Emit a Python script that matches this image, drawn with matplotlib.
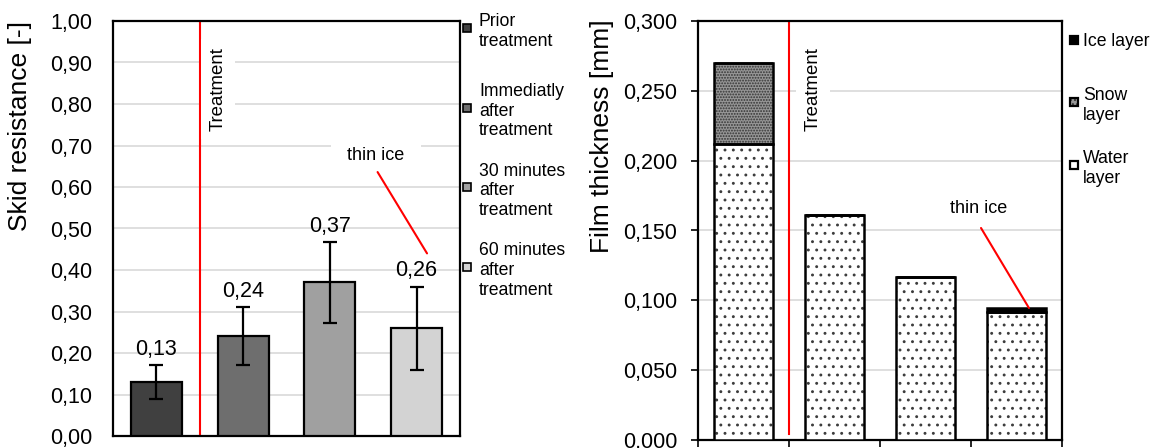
import matplotlib
matplotlib.use("Agg")
import matplotlib.pyplot as plt
from matplotlib.patches import Rectangle
from matplotlib.ticker import FuncFormatter

plt.rcParams['font.family'] = ['Liberation Sans', 'DejaVu Sans']
plt.rcParams['hatch.linewidth'] = 0.9

# Skid resistance (left chart)
skid_labels = ['Prior\ntreatment', 'Immediatly\nafter\ntreatment',
               '30 minutes\nafter\ntreatment', '60 minutes\nafter\ntreatment']
skid_mean = [0.13, 0.24, 0.37, 0.26]
skid_err = [0.04, 0.07, 0.097, 0.10]
skid_colors = ['#404040', '#6e6e6e', '#a0a0a0', '#d3d3d3']

# Film thickness (right chart), stacked layers in mm
water_layer = [0.212, 0.161, 0.1165, 0.092]
snow_layer = [0.058, 0.0, 0.0, 0.0]
ice_layer = [0.0, 0.0, 0.0, 0.0025]
layer_labels = ['Ice layer', 'Snow\nlayer', 'Water\nlayer']

W, H = 1156, 448
fig = plt.figure(figsize=(W / 100, H / 100), dpi=100)


def comma_fmt(nd):
    return FuncFormatter(lambda v, p: f'{v:.{nd}f}'.replace('.', ','))


def px(x, y):
    # pixel position -> figure fraction
    return x / W, 1 - y / H


# ---------------- left chart ----------------
ax1 = fig.add_axes([113 / W, 12 / H, 347 / W, 415 / H])
x = range(len(skid_mean))
ax1.bar(x, skid_mean, width=0.59, color=skid_colors, edgecolor='black',
        linewidth=1.6, zorder=3)
ax1.errorbar(x, skid_mean, yerr=skid_err, fmt='none', ecolor='black',
             elinewidth=1.6, capsize=5, capthick=1.6, zorder=4)
for xi, m, e in zip(x, skid_mean, skid_err):
    ax1.annotate(f'{m:.2f}'.replace('.', ','), (xi, m + e), xytext=(0, 4),
                 textcoords='offset points', ha='center', va='bottom',
                 fontsize=15.5, zorder=5)
ax1.set_xlim(-0.5, 3.5)
ax1.set_ylim(0, 1.0)
ax1.set_yticks([i / 10 for i in range(11)])
ax1.yaxis.set_major_formatter(comma_fmt(2))
ax1.tick_params(axis='y', length=0, pad=15, labelsize=15.5)
ax1.set_xticks([])
ax1.grid(axis='y', color='#d9d9d9', linewidth=1.2, zorder=0)
ax1.set_axisbelow(True)
for s in ax1.spines.values():
    s.set_linewidth(1.6)
ax1.set_ylabel('Skid resistance [-]', fontsize=19)
ax1.yaxis.set_label_coords(-0.232, 0.747)

ax1.axvline(0.5, ymin=0.005, color='red', linewidth=1.5, zorder=2)
ax1.text(0.71, 0.836, 'Treatment', rotation=90, ha='center', va='center',
         fontsize=13.4, zorder=2,
         bbox=dict(boxstyle='square,pad=0.45', fc='white', ec='none'))
ax1.text(2.53, 0.677, 'thin ice', ha='center', va='center', fontsize=13,
         zorder=2, bbox=dict(boxstyle='square,pad=0.9', fc='white', ec='none'))
ax1.annotate('', xy=(3.12, 0.44), xytext=(2.55, 0.636),
             arrowprops=dict(arrowstyle='-', color='red', lw=1.5,
                             shrinkA=0, shrinkB=0), zorder=3)

# legend, first line of each entry beside its swatch
for i, (lab, col) in enumerate(zip(skid_labels, skid_colors)):
    yc = 28 + i * 79.7
    x0, y0 = px(463, yc + 4)
    fig.patches.append(Rectangle((x0, y0), 8 / W, 8 / H, transform=fig.transFigure,
                                 fc=col, ec='black', lw=1.2))
    tx, ty = px(479, yc)
    fig.text(tx, ty, lab, ha='left', va='center_baseline', fontsize=12.7,
             linespacing=1.2)

# ---------------- right chart ----------------
ax2 = fig.add_axes([698 / W, 8 / H, 364 / W, 419 / H])
xs = range(len(water_layer))
bw = 0.65
snow_bottom = water_layer
ice_bottom = [w + s for w, s in zip(water_layer, snow_layer)]
# hatched fills first, black outlines drawn over them
ax2.bar(xs, water_layer, width=bw, color='white', edgecolor='#3c3c3c',
        hatch='..', linewidth=0, zorder=3)
ax2.bar(xs, snow_layer, width=bw, bottom=snow_bottom, color='#969696',
        edgecolor='#333333', hatch='......', linewidth=0, zorder=3)
ax2.bar(xs, water_layer, width=bw, fill=False, edgecolor='black',
        linewidth=1.8, zorder=4)
ax2.bar(xs, snow_layer, width=bw, bottom=snow_bottom, fill=False,
        edgecolor='black', linewidth=1.8, zorder=4)
ax2.bar(xs, ice_layer, width=bw, bottom=ice_bottom, color='black',
        edgecolor='black', linewidth=1.8, zorder=4)
ax2.set_xlim(-0.5, 3.5)
ax2.set_ylim(0, 0.3)
ax2.set_yticks([i * 0.05 for i in range(7)])
ax2.yaxis.set_major_formatter(comma_fmt(3))
ax2.tick_params(axis='y', length=5, width=1.2, pad=10, labelsize=15.5)
ax2.set_xticks([-0.5, 0.5, 1.5, 2.5, 3.5])
ax2.set_xticklabels([])
ax2.tick_params(axis='x', length=5, width=1.2)
ax2.grid(axis='y', color='#d9d9d9', linewidth=1.2, zorder=0)
ax2.set_axisbelow(True)
for s in ax2.spines.values():
    s.set_linewidth(1.6)
ax2.set_ylabel('Film thickness [mm]', fontsize=19)
ax2.yaxis.set_label_coords(-0.231, 0.7255)

ax2.axvline(0.5, ymin=0.015, color='red', linewidth=1.5, zorder=2)
ax2.text(0.764, 0.2513, 'Treatment', rotation=90, ha='center', va='center',
         fontsize=13.4, zorder=2,
         bbox=dict(boxstyle='square,pad=0.45', fc='white', ec='none'))
ax2.text(2.58, 0.1654, 'thin ice', ha='center', va='center', fontsize=13,
         zorder=2)
ax2.annotate('', xy=(3.137, ice_bottom[3] + ice_layer[3]), xytext=(2.61, 0.1518),
             arrowprops=dict(arrowstyle='-', color='red', lw=1.5,
                             shrinkA=0, shrinkB=0), zorder=5)

legend_styles = [dict(fc='black', hatch=None, hc='black'),
                 dict(fc='#969696', hatch='....', hc='#333333'),
                 dict(fc='white', hatch=None, hc='black')]
for i, (lab, st) in enumerate(zip(layer_labels, legend_styles)):
    yc = 40 + i * 62.5
    x0, y0 = px(1070, yc + 4)
    if st['hatch']:
        fig.patches.append(Rectangle((x0, y0), 8 / W, 8 / H, transform=fig.transFigure,
                                     fc=st['fc'], ec=st['hc'], hatch=st['hatch'], lw=0))
    fig.patches.append(Rectangle((x0, y0), 8 / W, 8 / H, transform=fig.transFigure,
                                 fc=st['fc'] if not st['hatch'] else 'none',
                                 ec='black', lw=1.6))
    tx, ty = px(1083, yc)
    fig.text(tx, ty, lab, ha='left', va='center_baseline', fontsize=12.7,
             linespacing=1.2)

fig.savefig('out.png', dpi=100)
